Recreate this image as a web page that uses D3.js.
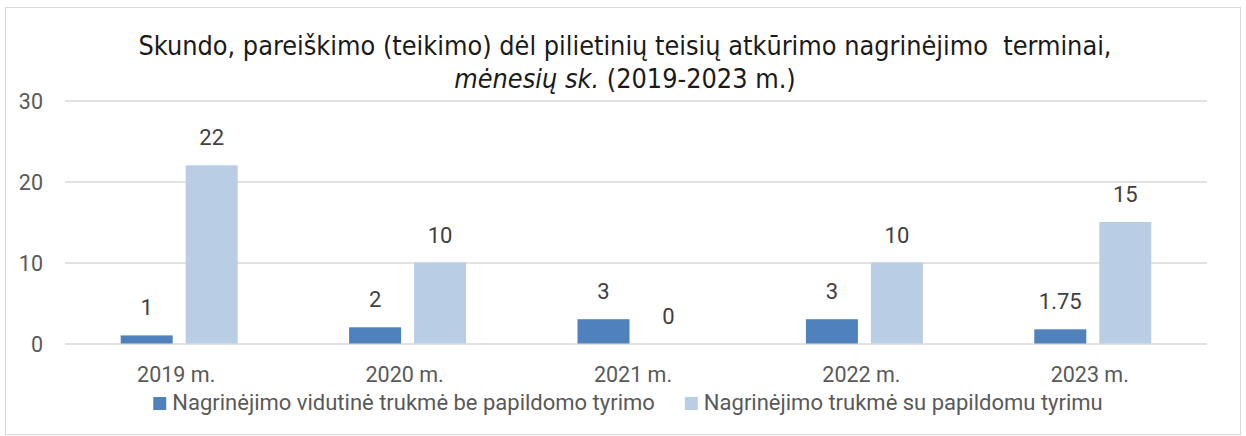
<!DOCTYPE html>
<html><head><meta charset="utf-8">
<script src="https://cdn.jsdelivr.net/npm/d3@7"></script>
<style>
html,body{margin:0;padding:0;background:#fff;}
svg{display:block;}
</style></head>
<body>
<svg id="c" width="1246" height="436"></svg>
<script>
const categories = ["2019 m.", "2020 m.", "2021 m.", "2022 m.", "2023 m."];
const seriesNames = ["Nagrinėjimo vidutinė trukmė be papildomo tyrimo", "Nagrinėjimo trukmė su papildomu tyrimu"];
const seriesBe = [1, 2, 3, 3, 1.75];
const seriesSu = [22, 10, 0, 10, 15];
const yTicks = [0, 10, 20, 30];
const colors = ["#4F81BD", "#B9CDE5"];
const titleLine1 = "Skundo, pareiškimo (teikimo) dėl pilietinių teisių atkūrimo nagrinėjimo  terminai,";
const titleLine2a = "mėnesių sk.";
const titleLine2b = " (2019-2023 m.)";

const svg = d3.select("#c");
const fontMain = "Roboto, 'Noto Sans', sans-serif";

// frame
svg.append("rect").attr("x", 5.5).attr("y", 7.5).attr("width", 1235).attr("height", 427)
  .attr("fill", "#fff").attr("stroke", "#D9D9D9").attr("stroke-width", 1);

const plot = {left: 65, right: 1207, top: 100.5, bottom: 343.5};
const x = d3.scaleBand().domain(categories).range([plot.left, plot.right]);
const y = d3.scaleLinear().domain([0, 30]).range([plot.bottom, plot.top]);
const barW = 52, gap = 13;

// gridlines + y labels
const yAxis = d3.axisLeft(y).tickValues(yTicks).tickSize(-(plot.right - plot.left)).tickPadding(22);
const gy = svg.append("g").attr("transform", `translate(${plot.left},0)`).call(yAxis);
gy.select(".domain").remove();
gy.selectAll(".tick line").attr("stroke", "#D9D9D9").attr("stroke-width", 1.3);
gy.selectAll(".tick text").attr("fill", "#595959").attr("font-size", 21.5).attr("font-family", fontMain).attr("dy", "0.36em");

const data = categories.map((c, i) => ({cat: c, vals: [seriesBe[i], seriesSu[i]]}));

function barX(cat, s) {
  const center = x(cat) + x.bandwidth() / 2;
  return s === 0 ? center - gap / 2 - barW : center + gap / 2;
}

const groups = svg.append("g").selectAll("g").data(data).join("g");
groups.selectAll("rect").data(d => d.vals.map((v, s) => ({cat: d.cat, v, s}))).join("rect")
  .attr("x", d => barX(d.cat, d.s))
  .attr("width", barW)
  .attr("y", d => y(d.v))
  .attr("height", d => y(0) - y(d.v))
  .attr("fill", d => colors[d.s]);

groups.selectAll("text").data(d => d.vals.map((v, s) => ({cat: d.cat, v, s}))).join("text")
  .attr("x", d => barX(d.cat, d.s) + barW / 2)
  .attr("y", d => y(d.v) - 20)
  .attr("text-anchor", "middle")
  .attr("font-family", fontMain).attr("font-size", 22).attr("fill", "#404040")
  .text(d => String(d.v));

// x axis labels
const xAxis = d3.axisBottom(x).tickSize(0).tickPadding(0);
const gx = svg.append("g").attr("transform", `translate(0,${plot.bottom})`).call(xAxis);
gx.select(".domain").remove();
gx.selectAll(".tick text").attr("fill", "#595959").attr("font-size", 21.5).attr("font-family", fontMain)
  .attr("dy", null).attr("y", 38.5).attr("dx", -3);

// legend
const legend = svg.append("g");
const items = legend.selectAll("g").data(seriesNames).join("g");
items.append("rect").attr("width", 13).attr("height", 13).attr("y", 397).attr("fill", (d, i) => colors[i]);
items.append("text").attr("x", 19).attr("y", 410).attr("font-family", fontMain).attr("font-size", 22)
  .attr("fill", "#595959").text(d => d);
let widths = [];
items.each(function() { widths.push(this.getBBox().width); });
const itemGap = 30;
const total = widths.reduce((a, b) => a + b, 0) + itemGap * (widths.length - 1);
let cx = 628 - total / 2;
items.attr("transform", (d, i) => { const t = `translate(${cx},0)`; cx += widths[i] + itemGap; return t; });

// title
const titleFont = "'Liberation Sans Narrow', 'DejaVu Sans Condensed', sans-serif";
svg.append("text").attr("x", 625).attr("y", 55).attr("text-anchor", "middle")
  .attr("font-family", titleFont).attr("font-size", 26.8).attr("fill", "#1a1a1a")
  .attr("xml:space", "preserve").text(titleLine1);
const t2 = svg.append("text").attr("x", 625).attr("y", 88).attr("text-anchor", "middle")
  .attr("font-family", titleFont).attr("font-size", 26.8).attr("fill", "#1a1a1a");
t2.append("tspan").attr("font-style", "italic").text(titleLine2a);
t2.append("tspan").text(titleLine2b);
</script>
</body></html>
